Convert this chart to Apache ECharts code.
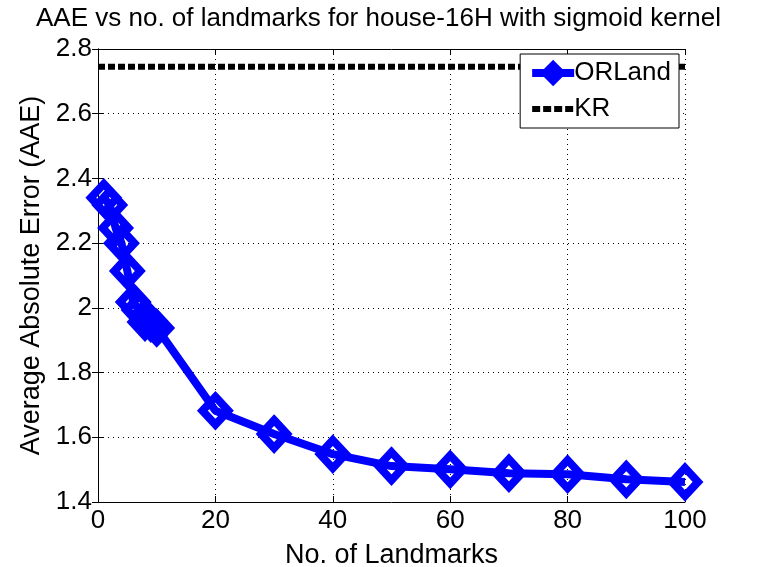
<!DOCTYPE html>
<html lang="en">
<head>
    <meta charset="UTF-8" />
    <title>AAE vs no. of landmarks</title>
    <script src="https://cdn.jsdelivr.net/npm/echarts@6/dist/echarts.min.js"></script>
    <style>
        html, body { margin: 0; padding: 0; background: #fff; }
        #main { width: 757px; height: 567px; }
    </style>
</head>
<body>
    <div id="main"></div>
<script type="text/javascript">
    // number of landmarks
    var landmarks = [1, 2, 3, 4, 5, 6, 7, 8, 9, 10, 20, 30, 40, 50, 60, 70, 80, 90, 100];
    // ORLand AAE values
    var orland = [2.340, 2.318, 2.247, 2.200, 2.114, 2.018, 1.993, 1.956, 1.953, 1.938,
                  1.682, 1.610, 1.548, 1.511, 1.501, 1.489, 1.486, 1.470, 1.462];
    // KR baseline (constant)
    var krX = [0, 100];
    var krValue = 2.745;

    var font = 'Liberation Sans, Arial, Helvetica, sans-serif';
    var dotted = { color: '#000', width: 1, type: [1, 4] };

    var chart = echarts.init(document.getElementById('main'));
    chart.setOption({
        animation: false,
        title: {
            text: 'AAE vs no. of landmarks for house-16H with sigmoid kernel',
            left: 'center',
            top: 1,
            textStyle: { fontFamily: font, fontSize: 26, fontWeight: 'normal', color: '#000' }
        },
        legend: {
            orient: 'vertical',
            right: 78,
            top: 54,
            padding: [6, 8, 6, 8],
            itemGap: 10,
            itemWidth: 42,
            itemHeight: 26,
            backgroundColor: '#fff',
            borderColor: '#000',
            borderWidth: 1,
            borderRadius: 0,
            textStyle: { fontFamily: font, fontSize: 26, color: '#000', padding: [0, 0, 0, -5] },
            data: [
                {
                    name: 'ORLand',
                    itemStyle: { color: '#0000ff', borderColor: '#0000ff', borderWidth: 4 },
                    lineStyle: { color: '#0000ff', width: 8 }
                },
                {
                    name: 'KR',
                    itemStyle: { opacity: 0 },
                    lineStyle: { color: '#000', width: 6, type: [8, 3] }
                }
            ]
        },
        grid: { left: 98, right: 72, top: 49, bottom: 65, outerBoundsMode: 'none' },
        xAxis: [{
            type: 'value',
            min: 0,
            max: 100,
            interval: 20,
            name: 'No. of Landmarks',
            nameLocation: 'middle',
            nameGap: 40,
            nameTextStyle: { fontFamily: font, fontSize: 27, color: '#000' },
            axisLine: { lineStyle: { color: '#000', width: 1 } },
            axisTick: { inside: true, length: 6, lineStyle: { color: '#000' } },
            axisLabel: { fontFamily: font, fontSize: 26, color: '#000', margin: 6 },
            splitLine: { show: true, lineStyle: dotted }
        }, {
            type: 'value',
            position: 'top',
            min: 0,
            max: 100,
            interval: 20,
            axisLine: { show: true, lineStyle: { color: '#000', width: 1 } },
            axisTick: { show: true, inside: true, length: 6, lineStyle: { color: '#000' } },
            axisLabel: { show: false },
            splitLine: { show: false }
        }],
        yAxis: [{
            type: 'value',
            min: 1.4,
            max: 2.8,
            interval: 0.2,
            name: 'Average Absolute Error (AAE)',
            nameLocation: 'middle',
            nameGap: 53,
            nameTextStyle: { fontFamily: font, fontSize: 27, color: '#000' },
            axisLine: { show: true, lineStyle: { color: '#000', width: 1 } },
            axisTick: { show: true, inside: true, length: 6, lineStyle: { color: '#000' } },
            axisLabel: {
                fontFamily: font, fontSize: 26, color: '#000', margin: 6,
                formatter: function (v) { return String(Math.round(v * 10) / 10); }
            },
            splitLine: { show: true, lineStyle: dotted }
        }, {
            type: 'value',
            position: 'right',
            min: 1.4,
            max: 2.8,
            interval: 0.2,
            axisLine: { show: true, lineStyle: { color: '#000', width: 1 } },
            axisTick: { show: true, inside: true, length: 6, lineStyle: { color: '#000' } },
            axisLabel: { show: false },
            splitLine: { show: false }
        }],
        series: [{
            name: 'ORLand',
            type: 'line',
            data: landmarks.map(function (x, i) { return [x, orland[i]]; }),
            symbol: 'diamond',
            symbolSize: [26, 28],
            lineStyle: { color: '#0000ff', width: 8 },
            itemStyle: { color: 'rgba(255,255,255,0)', borderColor: '#0000ff', borderWidth: 8 },
            z: 3
        }, {
            name: 'KR',
            type: 'line',
            data: krX.map(function (x) { return [x, krValue]; }),
            symbol: 'none',
            lineStyle: { color: '#000', width: 6, type: [7, 3] },
            itemStyle: { color: '#000' },
            z: 2
        }]
    });
</script>
</body>
</html>
